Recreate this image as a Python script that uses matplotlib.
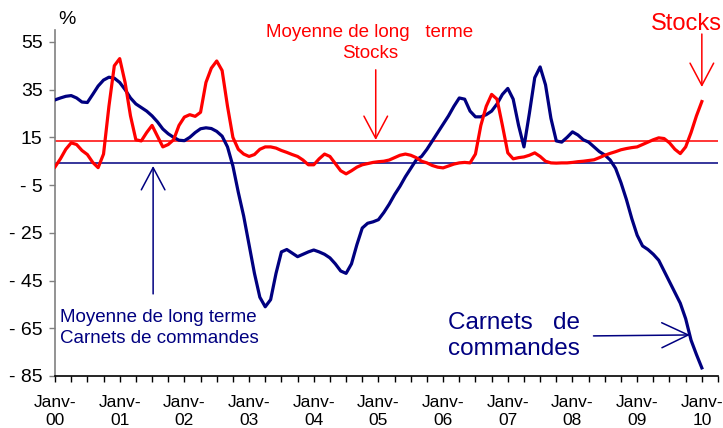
import matplotlib
matplotlib.use("Agg")
import matplotlib.pyplot as plt

# 1. Données mensuelles janv-2000 -> janv-2010 (121 points), soldes d'opinion en %
carnets = [30.7, 31.5, 32.2, 32.5, 31.5, 29.8, 29.6, 33, 36.5, 39, 40.2, 39.8,
           38, 35, 31.5, 29, 27.5, 26, 24, 21.5, 18.5, 16.5, 15, 13.8,
           13.6, 15, 17, 18.6, 19, 18.7, 17.5, 15.5, 11, 3, -8, -18,
           -30, -42, -52, -56, -53, -42, -33, -32, -33.5, -35, -34, -33,
           -32.2, -33, -34, -35.5, -38, -41, -42, -38, -30, -23, -21, -20.4,
           -19.5, -16.5, -13, -9, -5.5, -1.5, 2, 5.5, 7, 10, 13.5, 17,
           20.5, 24, 28, 31.5, 31, 26, 23.6, 23.6, 24.5, 26, 29, 33,
           35.5, 31, 20, 11, 25, 40, 44.5, 37, 23, 13.5, 13, 15,
           17.3, 16, 14, 13, 11, 9, 7.6, 5.5, 2, -4, -11, -19,
           -26, -30.5, -32, -34, -36.5, -41, -45.5, -50, -54.5, -61, -70, -76,
           -81.6]
stocks = [2.6, 6, 10, 12.7, 12, 9.5, 7.8, 4.5, 2.3, 8, 28, 45,
          48, 38, 24, 14, 13.5, 17, 20, 15.5, 11, 12, 14, 20,
          23.5, 24.5, 23.8, 25.5, 38, 44, 47, 43, 28, 15, 10, 8,
          7, 7.8, 10, 11, 11, 10.5, 9.5, 8.7, 7.8, 7, 5.5, 3.5,
          3.5, 6, 8, 7, 4, 1, -0.3, 1, 2.5, 3.5, 4, 4.5,
          4.8, 5, 5.5, 6.5, 7.5, 8, 7.5, 6.5, 5, 4.3, 3.2, 2.5,
          2.2, 3, 3.8, 4.3, 4.5, 4.3, 8, 20, 28, 33, 31, 20,
          8.5, 6, 6.5, 6.8, 7.5, 8.5, 7, 5, 4.3, 4.2, 4.3, 4.3,
          4.5, 4.8, 5, 5.3, 5.6, 6.5, 7.5, 8.3, 9, 9.8, 10.3, 10.7,
          11, 12, 13, 14, 14.8, 14.5, 12.7, 10, 8.2, 11, 17, 24,
          30]
moy_carnets = 4.4
moy_stocks = 13.6
annees = ["00", "01", "02", "03", "04", "05", "06", "07", "08", "09", "10"]
yticks = [55, 35, 15, -5, -25, -45, -65, -85]
ylabels = ["55", "35", "15", "- 5", "- 25", "- 45", "- 65", "- 85"]

ROUGE = "#FF0000"
BLEU = "#000080"

plt.rcParams["font.family"] = ["Liberation Sans", "DejaVu Sans"]

fig = plt.figure(figsize=(7.23, 4.28), dpi=100)
ax = fig.add_axes([0.0761, 0.1215, 0.917, 0.8085])

mois = list(range(len(carnets)))
ax.plot(mois, carnets, color=BLEU, lw=2.3, zorder=3, solid_joinstyle="round")
ax.plot(mois, stocks, color=ROUGE, lw=2.3, zorder=3, solid_joinstyle="round")
ax.axhline(moy_stocks, color=ROUGE, lw=1.1, zorder=2)
ax.axhline(moy_carnets, color=BLEU, lw=1.1, zorder=2)

ax.set_xlim(0, 123)
ax.set_ylim(-85, 60)

# axe x : un trait par trimestre, libellé en janvier
xt = list(range(0, 124, 3))
xl = []
for t in xt:
    if t % 12 == 0:
        xl.append("Janv-\n" + annees[t // 12])
    else:
        xl.append("")
ax.set_xticks(xt)
ax.set_xticklabels(xl, fontsize=12.5)
for lab in ax.get_xticklabels():
    lab.set_linespacing(1.3)
ax.set_yticks(yticks)
ax.set_yticklabels(ylabels, fontsize=14)
ax.tick_params(axis="x", direction="out", length=4, width=1, pad=9.5)
ax.tick_params(axis="y", direction="out", length=4, width=1, pad=5, color="#808080")

ax.spines["top"].set_visible(False)
ax.spines["right"].set_visible(False)
ax.spines["left"].set_color("#808080")
ax.spines["left"].set_linewidth(1.2)
ax.spines["bottom"].set_linewidth(1.2)

ax.text(2.2, 64.2, "%", fontsize=14, ha="center", va="center")

# annotations
fleche = "->,head_length=1.6,head_width=0.85"
ax.text(58.4, 54.4, "Moyenne de long   terme\nStocks", color=ROUGE, fontsize=13.5,
        ha="center", va="center", linespacing=1.3)
ax.annotate("", xy=(59.5, 13.9), xytext=(59.5, 43.3),
            arrowprops=dict(arrowstyle=fleche, color=ROUGE, lw=1.1, mutation_scale=10,
                            shrinkA=0, shrinkB=0))

ax.text(117.2, 62.5, "Stocks", color=ROUGE, fontsize=17, ha="center", va="center")
ax.annotate("", xy=(120, 36.1), xytext=(120, 58.3),
            arrowprops=dict(arrowstyle=fleche, color=ROUGE, lw=1.1, mutation_scale=10,
                            shrinkA=0, shrinkB=0), annotation_clip=False)

ax.text(0.9, -64.7, "Moyenne de long terme\nCarnets de commandes", color=BLEU, fontsize=13.5,
        ha="left", va="center", linespacing=1.3)
ax.annotate("", xy=(18.2, 3.0), xytext=(18.2, -50.6),
            arrowprops=dict(arrowstyle=fleche, color=BLEU, lw=1.1, mutation_scale=10,
                            shrinkA=0, shrinkB=0))

ax.text(85.2, -68.2, "Carnets   de\ncommandes", color=BLEU, fontsize=17.5,
        ha="center", va="center", linespacing=1.2)
ax.annotate("", xy=(117.8, -67.8), xytext=(99.9, -68.2),
            arrowprops=dict(arrowstyle="->,head_length=1.9,head_width=0.9", color=BLEU, lw=1.1,
                            mutation_scale=10, shrinkA=0, shrinkB=0))

fig.savefig("out.png", dpi=100)
